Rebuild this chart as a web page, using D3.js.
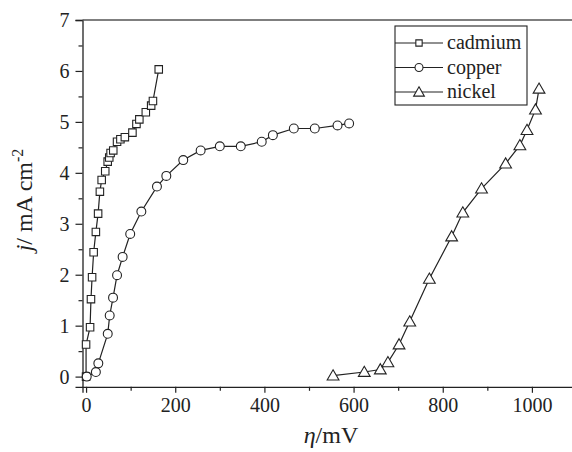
<style>body{margin:0;}</style>
<script src='https://d3js.org/d3.v7.min.js'></script>
<svg id='chart' width='572' height='452' style='background-color:white;display:block;'></svg>
<script>
var cadmiumX=[0,0,9,11,13.5,17,22,27,31,35,43,48.5,52,55,61,69.5,77,87,104,113,119.5,134,146,150,163],
    cadmiumY=[0,0.63,0.97,1.52,1.95,2.44,2.84,3.2,3.63,3.86,4.03,4.22,4.3,4.39,4.44,4.61,4.66,4.7,4.79,4.96,5.05,5.19,5.32,5.41,6.03];
var copperX=[1.5,22,27.5,48.6,53,60.5,69.5,82,99,124,159,180,218,257,300,347,394,419,466,513,564,590],
    copperY=[0,0.09,0.26,0.84,1.2,1.55,1.99,2.35,2.8,3.24,3.73,3.94,4.25,4.44,4.52,4.52,4.61,4.74,4.87,4.87,4.93,4.97];
var nickelX=[554,624,660,677,702,726,770,820,845,887,941,973,989,1008,1016],
    nickelY=[0.02,0.09,0.14,0.28,0.63,1.08,1.92,2.75,3.22,3.69,4.18,4.54,4.84,5.24,5.65];
var xTicks=[0,200,400,600,800,1000],yTicks=[0,1,2,3,4,5,6,7];
var names=['cadmium','copper','nickel'];

var font="'Liberation Serif','Times New Roman',serif",ink='#222';
var svg=d3.select('#chart');
var x=d3.scaleLinear().domain([-8,1100]).range([82.5,576.5]),
    y=d3.scaleLinear().domain([-0.2,7]).range([386.8,20]);

// axes
var gx=svg.append('g').attr('transform','translate(0,'+y(-0.2)+')')
  .call(d3.axisBottom(x).tickValues(d3.range(0,1101,100)).tickSize(6).tickFormat(function(d){return xTicks.indexOf(d)>=0?d:'';}));
gx.selectAll('.tick').filter(function(d){return xTicks.indexOf(d)<0;}).select('line').attr('y2',4);
var gy=svg.append('g').attr('transform','translate('+x(-8)+',0)')
  .call(d3.axisLeft(y).tickValues(d3.range(0,7.01,0.5)).tickSize(7).tickFormat(function(d){return d%1===0?d:'';}));
gy.selectAll('.tick').filter(function(d){return d%1!==0;}).select('line').attr('x2',-4);
[gx,gy].forEach(function(g){
  g.attr('font-family',font);
  g.select('.domain').attr('stroke',ink).attr('stroke-width',1.3);
  g.selectAll('.tick line').attr('stroke',ink).attr('stroke-width',1.2);
  g.selectAll('.tick text').attr('fill',ink).attr('font-family',font).attr('font-size',20);
});
gx.selectAll('.tick text').attr('dy','0.8em');
gy.selectAll('.tick text').attr('x',-13);
svg.append('line').attr('x1',x(-8)).attr('x2',572).attr('y1',y(7)).attr('y2',y(7))
   .attr('stroke','#555').attr('stroke-width',1.3);

// axis titles
svg.append('text').attr('x',331).attr('y',443).attr('text-anchor','middle')
   .attr('font-family',font).attr('font-size',24).attr('fill',ink)
   .html('<tspan font-style="italic">η</tspan>/mV');
svg.append('text').attr('transform','translate(32,200) rotate(-90)').attr('text-anchor','middle')
   .attr('font-family',font).attr('font-size',24).attr('fill',ink)
   .html('<tspan font-style="italic">j</tspan>/ mA cm<tspan dy="-9" font-size="16">-2</tspan>');

// series
var shapes=[d3.symbolSquare,d3.symbolCircle,d3.symbolTriangle],sizes=[56,62,60];
var series=[[cadmiumX,cadmiumY],[copperX,copperY],[nickelX,nickelY]];
var line=d3.line().x(function(d){return x(d[0]);}).y(function(d){return y(d[1]);});
series.forEach(function(s,i){
  var pts=s[0].map(function(v,k){return [v,s[1][k]];});
  svg.append('path').datum(pts).attr('d',line).attr('fill','none').attr('stroke',ink).attr('stroke-width',1.2);
  svg.selectAll('.m'+i).data(pts).enter().append('path').attr('class','m'+i)
     .attr('transform',function(d){return 'translate('+x(d[0])+','+(y(d[1])+(i===2?1:0))+')';})
     .attr('d',d3.symbol().type(shapes[i]).size(sizes[i]))
     .attr('fill','white').attr('stroke',ink).attr('stroke-width',1.1);
});

// legend
var lg=svg.append('g').attr('transform','translate(395,26)');
lg.append('rect').attr('width',132).attr('height',79).attr('fill','white').attr('stroke',ink).attr('stroke-width',1.1);
names.forEach(function(n,i){
  var ry=17+i*24.5;
  lg.append('line').attr('x1',0).attr('x2',48).attr('y1',ry).attr('y2',ry).attr('stroke',ink).attr('stroke-width',1.2);
  lg.append('path').attr('transform','translate(24,'+(ry+(i===2?1:0))+')')
    .attr('d',d3.symbol().type(shapes[i]).size(i===0?40:50)).attr('fill','white').attr('stroke',ink).attr('stroke-width',1.1);
  lg.append('text').attr('x',52).attr('y',ry+6).text(n).attr('font-family',font).attr('font-size',20).attr('fill',ink);
});
</script>
